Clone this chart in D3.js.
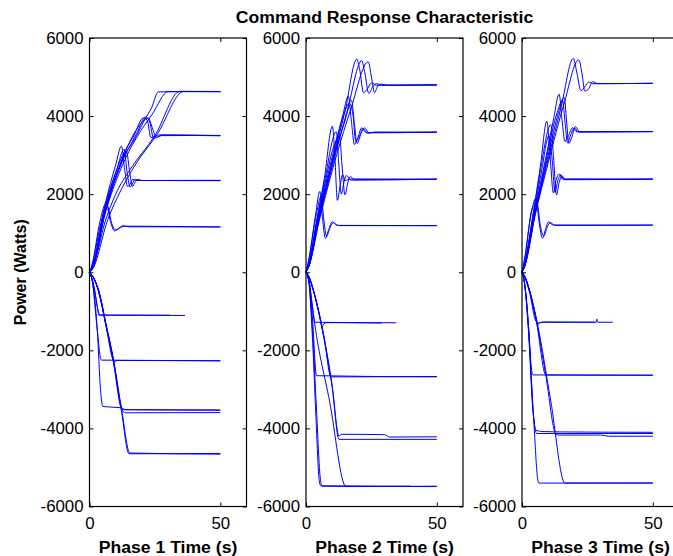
<!DOCTYPE html>
<html>
<head>
<meta charset="utf-8">
<script src="https://cdn.jsdelivr.net/npm/d3@7"></script>
<style>
  body { margin: 0; background: #fff; }
  text { font-family: "Liberation Sans", Arial, sans-serif; fill: #000; }
</style>
</head>
<body>
<div id="chart"></div>
<script>
// tick labels and axis texts
const yTicks = [-6000, -4000, -2000, 0, 2000, 4000, 6000];
const xTicks = [0, 50];
const chartTitle = "Command Response Characteristic";
const yLabel = "Power (Watts)";
const phaseLabels = ["Phase 1 Time (s)", "Phase 2 Time (s)", "Phase 3 Time (s)"];

// traces, [time s, power W]
const phase1Traces = [
  // up to ~4625
  [[0,0],[1,90],[6,1550],[12,2800],[18,3500],[21,3900],[23.7,4210],[26.3,4620],[50,4630]],
  [[0,0],[1,90],[6,1500],[12,2650],[18,3450],[24,4050],[30.1,4630],[50,4625]],
  [[0,0],[1,80],[6,1300],[10,2000],[15.4,2620],[25,3500],[34.6,4635],[50,4630]],
  [[0,0],[1,60],[7,1350],[12,2100],[17,2700],[26,3550],[36,4630],[50,4625]],
  // ~3500
  [[0,0],[1,100],[6,1650],[12,2900],[17,3500],[20.5,3950],[22,3900],[23.5,3450],[25,3480],[27,3520],[50,3500]],
  [[0,0],[1,90],[6,1550],[12,2750],[18,3550],[21.5,3980],[23,3850],[24.5,3430],[26,3470],[28,3510],[50,3495]],
  [[0,0],[1,100],[6,1600],[12,2800],[19.5,3800],[22.5,3950],[24,3700],[25.5,3450],[27.5,3500],[50,3505]],
  // ~2350
  [[0,0],[1,120],[6,1750],[10,2750],[12.2,3230],[13.5,2600],[14.5,2200],[15.5,2250],[16.5,2380],[18,2350],[50,2350]],
  [[0,0],[1,110],[6,1700],[10.5,2650],[13.2,3150],[14.5,2500],[15.5,2180],[16.5,2280],[17.5,2380],[19,2350],[50,2345]],
  [[0,0],[1,100],[6,1600],[11,2600],[14.1,3100],[15.4,2550],[16.4,2200],[17.4,2300],[18.5,2380],[20,2350],[50,2355]],
  // ~1160
  [[0,0],[1,200],[4,1300],[6.4,1780],[8,1300],[9.6,1060],[11,1120],[12.8,1190],[15,1165],[50,1160]],
  [[0,0],[1,180],[4.5,1300],[6.8,1700],[8.5,1250],[10,1080],[12,1150],[13.5,1180],[50,1160]],
  // ~-1100
  [[0,0],[1.5,-300],[3,-900],[3.6,-1100],[36.5,-1107]],
  [[0,0],[1.8,-400],[3.2,-950],[4,-1095],[30.8,-1100]],
  // ~-2265
  [[0,0],[1,-200],[3,-1500],[4.5,-2250],[50,-2265]],
  [[0,0],[2,-200],[4,-600],[6,-1250],[9.5,-2290],[10.5,-2260],[50,-2270]],
  // ~-3530 / -3595
  [[0,0],[1,-200],[3,-1500],[4.2,-3000],[5.1,-3440],[12,-3470],[14,-3520],[50,-3530]],
  [[0,0],[2,-200],[4,-620],[6,-1260],[9,-2220],[12.8,-3560],[14,-3600],[50,-3595]],
  [[0,0],[2,-210],[4,-640],[6,-1280],[9,-2250],[12.5,-3520],[50,-3530]],
  // ~-4650
  [[0,0],[2,-200],[4,-600],[6,-1250],[9,-2200],[12.2,-3550],[15.1,-4650],[50,-4640]],
  [[0,0],[2,-190],[4,-580],[6,-1230],[9,-2170],[12.3,-3520],[15.4,-4630],[50,-4660]]
];

const phase2Traces = [
  // ~4800
  [[0,0],[1,150],[5,1400],[10,2800],[15,4150],[19.4,5460],[20.5,5200],[22,4600],[23.5,4700],[25,4850],[27,4790],[50,4800]],
  [[0,0],[1,140],[5,1350],[10,2700],[16,4200],[21.3,5420],[22.5,5100],[24,4580],[25.5,4750],[27,4830],[29,4790],[50,4795]],
  [[0,0],[1,130],[5,1300],[10,2600],[17,4150],[23.8,5390],[25,5000],[26.2,4600],[27.5,4780],[29,4820],[31,4790],[50,4800]],
  // ~3586
  [[0,0],[1,150],[5,1500],[10,2950],[14,4000],[16.2,4510],[17.3,3900],[18.5,3270],[19.8,3450],[21.3,3700],[22.5,3600],[24,3560],[26,3590],[50,3586]],
  [[0,0],[1,140],[5,1450],[10,2850],[15,4150],[17.4,4400],[18.5,3800],[19.5,3300],[21,3550],[22.3,3700],[24,3580],[50,3586]],
  [[0,0],[1,130],[5,1400],[10,2800],[15,3900],[17,4300],[18,4000],[19,3350],[20.5,3500],[21.8,3680],[23.5,3570],[50,3590]],
  // ~2385
  [[0,0],[1,200],[4,1300],[7,2400],[10.1,3740],[11,3000],[12,1840],[13,2200],[14,2500],[15,2350],[17,2390],[50,2385]],
  [[0,0],[1,180],[4,1250],[7,2300],[11.6,3600],[12.5,2800],[13.5,2000],[14.5,2300],[15.5,2480],[17,2360],[50,2385]],
  [[0,0],[1,170],[4,1200],[7,2200],[11,3300],[12.8,3500],[13.8,2700],[14.9,1980],[16,2300],[17,2450],[18.5,2370],[50,2380]],
  // ~1192
  [[0,0],[1,300],[3.5,1400],[5.3,2070],[6.3,1400],[7.4,870],[8.7,1100],[10,1290],[11.5,1220],[13,1195],[50,1192]],
  [[0,0],[1,280],[4,1500],[5.8,1950],[6.8,1350],[7.9,920],[9.2,1150],[10.5,1270],[12,1200],[50,1195]],
  // ~-1295
  [[0,0],[1,-150],[2.5,-900],[3.3,-1280],[34.5,-1295]],
  [[0,0],[1,-100],[3,-500],[5,-1050],[6.2,-1400],[6.8,-1320],[8,-1290],[29,-1300]],
  // ~-2677
  [[0,0],[1,-150],[2.5,-1200],[4,-2650],[50,-2680]],
  [[0,0],[1,-100],[3,-500],[5,-1050],[7,-1700],[9.5,-2680],[50,-2670]],
  // ~-4213 / -4280
  [[0,0],[1,-100],[3,-500],[5,-1050],[7,-1700],[10,-2900],[12.6,-4200],[13.5,-4150],[30,-4160],[32,-4220],[50,-4215]],
  [[0,0],[1,-100],[3,-520],[5,-1080],[7,-1750],[10,-2950],[12.6,-4280],[50,-4280]],
  // ~-5490
  [[0,0],[1,-200],[2.5,-1500],[4,-3500],[5.5,-5300],[6.2,-5480],[50,-5490]],
  [[0,0],[1,-220],[2.4,-1600],[3.8,-3700],[5,-5300],[5.6,-5470],[40,-5480]],
  [[0,0],[1,-200],[2.5,-900],[3.3,-1300],[9,-3300],[15.3,-5490],[50,-5480]]
];

const phase3Traces = [
  // ~4840
  [[0,0],[1,150],[5,1500],[10,2900],[15,4250],[19.6,5475],[21,5100],[22.5,4650],[24,4750],[25.5,4870],[27,4830],[50,4840]],
  [[0,0],[1,140],[5,1450],[10,2800],[16,4300],[21.7,5440],[23,5050],[24,4640],[25.5,4700],[27,4880],[29,4830],[50,4840]],
  // ~3604
  [[0,0],[1,170],[5,1600],[9,2900],[12,3900],[14.2,4560],[15.3,3900],[16.4,3350],[17.8,3500],[19.3,3700],[21,3600],[50,3604]],
  [[0,0],[1,160],[5,1550],[9,2800],[13,4000],[16.2,4470],[17,3900],[17.9,3300],[19,3450],[20.4,3730],[22,3600],[50,3600]],
  [[0,0],[1,150],[5,1500],[10,3000],[14,4100],[15.5,4400],[16.5,3800],[17.4,3313],[18.8,3550],[20,3700],[21.5,3590],[50,3604]],
  // ~2385
  [[0,0],[1,220],[4,1400],[7,2700],[9.5,3870],[10.8,2900],[12,2030],[13,2350],[14.2,2520],[15.5,2380],[17,2390],[50,2385]],
  [[0,0],[1,210],[4,1350],[7,2600],[11,3780],[12,3000],[13.2,1980],[14.2,2300],[15.3,2470],[16.5,2370],[50,2385]],
  [[0,0],[1,200],[4,1300],[7.5,2600],[10.3,3500],[11.5,2900],[12.6,2050],[13.7,2350],[14.8,2500],[16,2380],[50,2383]],
  // ~1210
  [[0,0],[1,350],[3.5,1500],[5.3,1900],[6.5,1300],[7.8,870],[9,1100],[10.1,1290],[11.5,1220],[13,1200],[50,1210]],
  [[0,0],[1,320],[4,1650],[5.8,1750],[7,1200],[8.3,920],[9.6,1150],[10.8,1270],[12.5,1210],[50,1205]],
  // ~-1280
  [[0,0],[1,-100],[3,-500],[5.5,-1200],[6,-1350],[6.8,-1290],[8,-1280],[28.3,-1280],[28.6,-1200],[28.9,-1280],[34.7,-1280]],
  [[0,0],[1,-120],[3,-550],[5.3,-1250],[6.5,-1300],[8,-1275],[28,-1280]],
  // ~-2634
  [[0,0],[1,-300],[2.5,-1400],[3.5,-2400],[4.2,-2630],[50,-2640]],
  [[0,0],[1,-100],[3,-500],[5.5,-1250],[9.1,-2630],[50,-2635]],
  // ~-4127 / -4180
  [[0,0],[1,-300],[2.5,-1500],[4,-3400],[5.3,-4050],[8,-4080],[16,-4090],[50,-4100]],
  [[0,0],[1,-280],[2.5,-1400],[4.2,-3500],[5.6,-4130],[50,-4130]],
  [[0,0],[1,-100],[3,-500],[5.5,-1250],[9,-2600],[13,-4150],[14,-4170],[30,-4170],[33,-4200],[50,-4200]],
  // ~-5398
  [[0,0],[1,-300],[2.5,-1500],[4.5,-3800],[6,-5300],[6.5,-5400],[50,-5400]],
  [[0,0],[1,-100],[3,-500],[5.9,-1320],[11,-3300],[16.4,-5400],[50,-5398]]
];

const phaseTraces = [phase1Traces, phase2Traces, phase3Traces];

// layout
const W = 673, H = 556;
const panelLeft = [89.5, 306, 522];
const panelWidth = 157;
const plotTop = 38, plotBottom = 506.5;

const svg = d3.select("#chart").append("svg")
  .attr("width", W)
  .attr("height", H);

svg.append("rect").attr("width", W).attr("height", H).attr("fill", "#fff");

// stretch text a bit horizontally, the picture is a little wide
function stretch(sel, k) {
  sel.each(function() {
    const len = this.getComputedTextLength();
    d3.select(this).attr("textLength", len * k).attr("lengthAdjust", "spacingAndGlyphs");
  });
}

const y = d3.scaleLinear().domain([-6000, 6000]).range([plotBottom, plotTop]);

phaseTraces.forEach((traces, i) => {
  const x0 = panelLeft[i];
  const x = d3.scaleLinear().domain([0, 60]).range([x0, x0 + panelWidth]);

  const g = svg.append("g");

  // traces
  const line = d3.line()
    .x(d => x(d[0]))
    .y(d => y(d[1]))
    .curve(d3.curveMonotoneX);

  g.append("g")
    .selectAll("path")
    .data(traces)
    .enter()
    .append("path")
    .attr("fill", "none")
    .attr("stroke", "#0000ff")
    .attr("stroke-width", 1)
    .attr("d", line);

  // left axis (plain hyphen for negatives, like the original)
  const left = g.append("g")
    .attr("transform", `translate(${x0},0)`)
    .call(d3.axisLeft(y).tickValues(yTicks).tickSize(-4).tickPadding(6).tickFormat(d => String(d)));
  left.select(".domain").remove();
  left.selectAll("text").style("font-size", "16px").attr("fill", "#000");

  // right mirror ticks
  const right = g.append("g")
    .attr("transform", `translate(${x0 + panelWidth},0)`)
    .call(d3.axisRight(y).tickValues(yTicks).tickSize(-4).tickFormat(""));
  right.select(".domain").remove();

  // bottom axis
  const bottom = g.append("g")
    .attr("transform", `translate(0,${plotBottom})`)
    .call(d3.axisBottom(x).tickValues(xTicks).tickSize(-4).tickPadding(11).tickFormat(d => String(d)));
  bottom.select(".domain").remove();
  bottom.selectAll("text").style("font-size", "16px").attr("fill", "#000");

  // top mirror ticks
  const top = g.append("g")
    .attr("transform", `translate(0,${plotTop})`)
    .call(d3.axisTop(x).tickValues(xTicks).tickSize(-4).tickFormat(""));
  top.select(".domain").remove();

  g.selectAll(".tick line").attr("stroke", "#000");

  // box
  g.append("rect")
    .attr("x", x0)
    .attr("y", plotTop)
    .attr("width", panelWidth)
    .attr("height", plotBottom - plotTop)
    .attr("fill", "none")
    .attr("stroke", "#000")
    .attr("stroke-width", 1.2);

  stretch(left.selectAll("text"), 1.05);
  stretch(bottom.selectAll("text"), 1.05);

  // x label
  const xl = svg.append("text")
    .attr("x", x0 + panelWidth / 2)
    .attr("y", 553)
    .attr("text-anchor", "middle")
    .style("font-size", "16px")
    .style("font-weight", "bold")
    .text(phaseLabels[i]);
  stretch(xl, 1.1);
});

// title
const title = svg.append("text")
  .attr("x", panelLeft[1] + panelWidth / 2)
  .attr("y", 23)
  .attr("text-anchor", "middle")
  .style("font-size", "16px")
  .style("font-weight", "bold")
  .text(chartTitle);
stretch(title, 1.1);

// y label
svg.append("text")
  .attr("transform", `translate(26,${y(0)}) rotate(-90)`)
  .attr("text-anchor", "middle")
  .style("font-size", "16px")
  .style("font-weight", "bold")
  .text(yLabel);
</script>
</body>
</html>
